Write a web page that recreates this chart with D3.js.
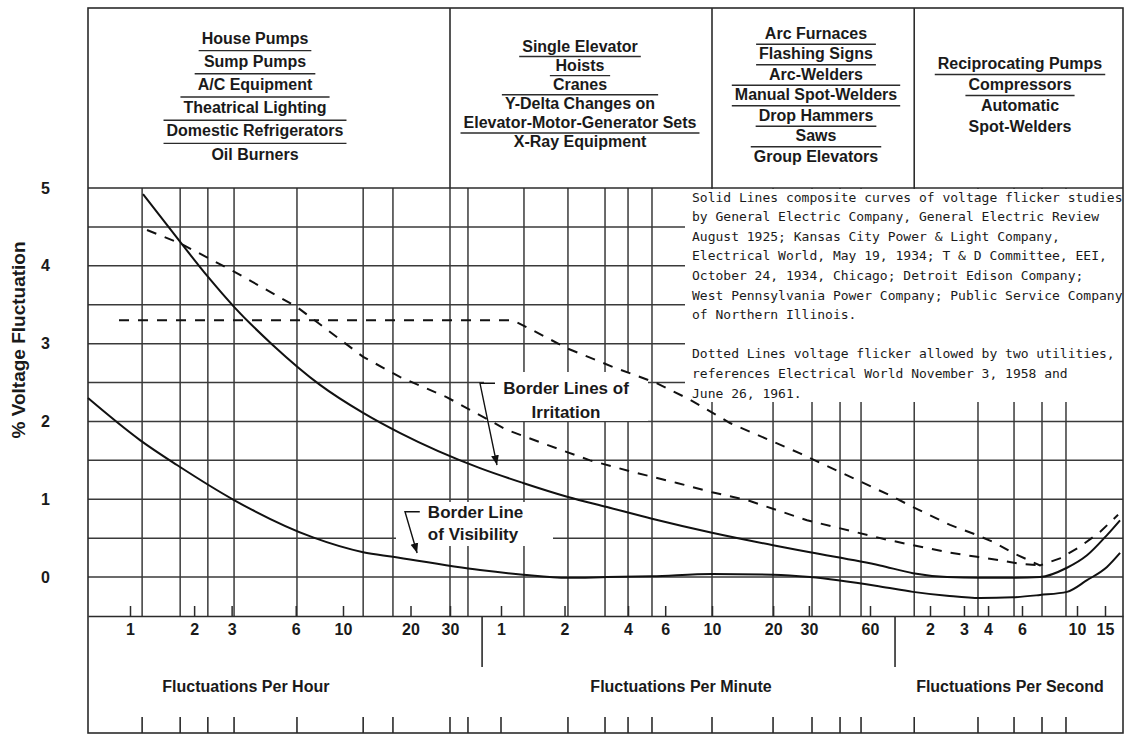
<!DOCTYPE html>
<html>
<head>
<meta charset="utf-8">
<script src="https://cdn.jsdelivr.net/npm/d3@7"></script>
<style>
body { margin: 0; background: #fff; }
text { font-family: "Liberation Sans", Arial, sans-serif; fill: #1a1a1a; }
.hdr, .lbl, .tick text { font-size: 16px; font-weight: bold; }
.note { font-family: "DejaVu Sans Mono", monospace; font-size: 13px; }
.ann { font-size: 17px; font-weight: bold; }
</style>
</head>
<body>
<script>
// x values are fluctuations per hour, y values are % voltage fluctuation

var hourTicks   = [1, 2, 3, 6, 10, 20, 30];
var minuteTicks = [1, 2, 4, 6, 10, 20, 30, 60];
var secondTicks = [2, 3, 4, 6, 10, 15];
var yTicks = [0, 1, 2, 3, 4, 5];
var yGrid  = [0, 0.5, 1, 1.5, 2, 2.5, 3, 3.5, 4, 4.5];
var xGrid  = [1.14, 1.72, 2.32, 3.08, 6.08, 12.3, 16.7, 30, 38.3, 77.1, 124.6, 186.7, 240, 311.7,
              600, 1199, 1865, 2563, 3252, 6000, 12770, 19640, 26010, 32500];
var xRug   = [1.14, 1.72, 2.32, 3.08, 6.08, 12.3, 16.7, 30, 38.3, 60, 124.6, 186.7, 240, 311.7,
              600, 1199, 1865, 2563, 3252, 6000, 12770, 19640, 26010, 32500];

// solid lines: composite curves
var irritation = [[1.151,4.92],[1.717,4.31],[2.32,3.86],[3.11,3.46],[4.69,2.98],[7.80,2.47],
  [12.3,2.11],[18.0,1.85],[45.1,1.40],[76.3,1.21],[124.6,1.03],[190.8,0.90],[311.7,0.75],
  [600,0.57],[1199,0.41],[1824,0.32],[4041,0.15],[5915,0.05],[8820,0.00],[13080,-0.01],
  [19400,-0.01],[25530,0.00],[32810,0.12],[41620,0.28],[55570,0.54],[67100,0.73]];
var visibility = [[0.635,2.30],[1.114,1.76],[1.662,1.44],[3.078,0.99],[7.23,0.51],[12.3,0.32],
  [16.7,0.26],[45.1,0.09],[76.3,0.03],[124.6,-0.01],[190.8,0.00],[311.7,0.01],[600,0.04],
  [1199,0.03],[1824,0.00],[4041,-0.12],[5915,-0.19],[8820,-0.24],[13080,-0.27],[19400,-0.26],
  [25530,-0.23],[32810,-0.19],[41620,-0.04],[55570,0.13],[67100,0.31]];

// dotted lines: flicker allowed by two utilities
var utilityA = [[1.202,4.46],[1.717,4.29],[3.11,3.92],[6.08,3.47],[12.3,2.83],[18.0,2.57],
  [29.1,2.31],[64.1,1.89],[99.1,1.70],[158.5,1.50],[253.4,1.35],[409.6,1.21],[600,1.09],
  [892,0.99],[1763,0.73],[4381,0.48],[5915,0.41],[8820,0.32],[12620,0.26],[16220,0.22],
  [21090,0.17],[25530,0.15]];
var utilityB = [[0.888,3.30],[68.4,3.30],[85.1,3.17],[123.3,2.94],[203.7,2.70],[329.3,2.49],
  [471.9,2.28],[735.5,1.98],[1199,1.74],[1628,1.59],[4536,1.05],[5915,0.90],[9144,0.67],
  [12620,0.54],[15650,0.44],[19400,0.31],[25530,0.15],[30740,0.24],[37590,0.39],
  [50220,0.58],[65190,0.80]];

var headerBounds = [30, 600, 6000];
var unitBounds   = [46.4, 4807];
var unitTitles   = ["Fluctuations Per Hour", "Fluctuations Per Minute", "Fluctuations Per Second"];
var unitTitleAt  = [3.5, 428, 18700];

var header1 = [["House Pumps"], ["Sump Pumps"], ["A/C Equipment"], ["Theatrical Lighting"],
               ["Domestic Refrigerators"], ["Oil Burners"]];
var header2 = [["Single Elevator"], ["Hoists"], ["Cranes"],
               ["Y-Delta Changes on", "Elevator-Motor-Generator Sets"], ["X-Ray Equipment"]];
var header3 = [["Arc Furnaces"], ["Flashing Signs"], ["Arc-Welders"], ["Manual Spot-Welders"],
               ["Drop Hammers"], ["Saws"], ["Group Elevators"]];
var header4 = [["Reciprocating Pumps"], ["Compressors"], ["Automatic", "Spot-Welders"]];

var notes = [
  "Solid Lines composite curves of voltage flicker studies",
  "by General Electric Company, General Electric Review",
  "August 1925; Kansas City Power & Light Company,",
  "Electrical World, May 19, 1934; T & D Committee, EEI,",
  "October 24, 1934, Chicago; Detroit Edison Company;",
  "West Pennsylvania Power Company; Public Service Company",
  "of Northern Illinois.",
  "",
  "Dotted Lines voltage flicker allowed by two utilities,",
  "references Electrical World November 3, 1958 and",
  "June 26, 1961."
];

var irritationText = ["Border Lines of", "Irritation"];
var irritationAt   = [[122, 2.43], [122, 2.12]];
var irritationLead = [[55.3, 2.49], [45.1, 2.49], [56.8, 1.44]];
var visibilityText = ["Border Line", "of Visibility"];
var visibilityAt   = [[23.9, 0.84], [23.9, 0.55]];
var visibilityLead = [[22.0, 0.84], [18.9, 0.84], [21.4, 0.31]];

// ---------------------------------------------------------------
var width = 1125, height = 734;
var frameTop = 8, frameBottom = 733;

// chart scale is roughly logarithmic but stretched unevenly between decades
var x = d3.scaleLog()
  .domain([0.635, 1, 10, 30, 60, 600, 3600, 7200, 21600, 36000, 54000, 70000])
  .range([88, 130, 343, 450, 501, 712, 870, 930, 1022, 1077, 1105, 1123]);
var y = d3.scaleLinear().domain([-0.5, 5]).range([616, 188]);

var xL = x(0.635), xR = x(70000);

var svg = d3.select("body").append("svg").attr("width", width).attr("height", height);

var ink = "#2b2b2b";

// grid
var grid = svg.append("g").attr("stroke", "#3a3a3a").attr("stroke-width", 1.5);
grid.selectAll(".hg").data(yGrid).enter().append("line")
  .attr("x1", xL).attr("x2", xR)
  .attr("y1", function(d){ return y(d); }).attr("y2", function(d){ return y(d); });
grid.selectAll(".vg").data(xGrid).enter().append("line")
  .attr("x1", function(d){ return x(d); }).attr("x2", function(d){ return x(d); })
  .attr("y1", y(5)).attr("y2", y(-0.5));

// blank areas behind the notes and labels
var masks = [[685, 189, 438, 213], [484, 372, 164, 49], [396, 502, 157, 44]];
svg.selectAll(".mask").data(masks).enter().append("rect")
  .attr("x", function(d){ return d[0]; }).attr("y", function(d){ return d[1]; })
  .attr("width", function(d){ return d[2]; }).attr("height", function(d){ return d[3]; })
  .attr("fill", "#fff");

// frame and dividers
var frame = svg.append("g").attr("stroke", ink).attr("stroke-width", 1.6);
frame.append("rect").attr("x", xL).attr("y", frameTop)
  .attr("width", xR - xL).attr("height", frameBottom - frameTop).attr("fill", "none");
frame.append("line").attr("x1", xL).attr("x2", xR).attr("y1", y(5)).attr("y2", y(5));
frame.selectAll(".hd").data(headerBounds).enter().append("line")
  .attr("x1", function(d){ return x(d); }).attr("x2", function(d){ return x(d); })
  .attr("y1", frameTop).attr("y2", y(5));
frame.selectAll(".ud").data(unitBounds).enter().append("line")
  .attr("x1", function(d){ return x(d); }).attr("x2", function(d){ return x(d); })
  .attr("y1", y(-0.5)).attr("y2", 667);
frame.selectAll(".rug").data(xRug).enter().append("line")
  .attr("x1", function(d){ return x(d); }).attr("x2", function(d){ return x(d); })
  .attr("y1", 717).attr("y2", frameBottom);

// x axis
var xTicks = hourTicks
  .concat(minuteTicks.map(function(d){ return d * 60; }))
  .concat(secondTicks.map(function(d){ return d * 3600; }));
function fmt(d) {
  if (d < 60) return d;
  if (d <= 3600) return d / 60;
  return d / 3600;
}
var xAxis = svg.append("g").attr("transform", "translate(0," + y(-0.5) + ")")
  .call(d3.axisBottom(x).tickValues(xTicks).tickFormat(fmt)
    .tickSizeInner(-10).tickSizeOuter(0).tickPadding(8));
xAxis.selectAll("line, path").attr("stroke", ink).attr("stroke-width", 1.5);
xAxis.selectAll("text").attr("fill", "#1a1a1a");
xAxis.attr("font-family", null).attr("font-size", null);

// y axis
var yAxis = svg.append("g").attr("transform", "translate(" + xL + ",0)")
  .call(d3.axisLeft(y).tickValues(yTicks).tickFormat(d3.format("d"))
    .tickSize(0).tickPadding(38));
yAxis.select(".domain").remove();
yAxis.selectAll("text").attr("fill", "#1a1a1a");
yAxis.attr("font-family", null).attr("font-size", null);

svg.append("text").attr("class", "lbl")
  .attr("transform", "translate(18,340) rotate(-90)")
  .attr("text-anchor", "middle").attr("dy", "0.35em")
  .style("font-size", "19px").text("% Voltage Fluctuation");

svg.selectAll(".unit").data(unitTitles).enter().append("text").attr("class", "lbl")
  .attr("x", function(d, i){ return x(unitTitleAt[i]); }).attr("y", 686)
  .attr("dy", "0.35em").attr("text-anchor", "middle").text(function(d){ return d; });

// curves
var smooth = d3.line().x(function(d){ return x(d[0]); }).y(function(d){ return y(d[1]); })
  .curve(d3.curveMonotoneX);
var straight = d3.line().x(function(d){ return x(d[0]); }).y(function(d){ return y(d[1]); });

[irritation, visibility].forEach(function(s){
  svg.append("path").datum(s).attr("d", smooth)
    .attr("fill", "none").attr("stroke", "#111").attr("stroke-width", 2);
});
[utilityA, utilityB].forEach(function(s){
  svg.append("path").datum(s).attr("d", straight)
    .attr("fill", "none").attr("stroke", "#111").attr("stroke-width", 2)
    .attr("stroke-dasharray", "10,9");
});

// header columns
var headerCols = [
  { items: header1, cx: 255, y0: 38, dy: 23.2 },
  { items: header2, cx: 580, y0: 46, dy: 19.1 },
  { items: header3, cx: 816, y0: 33, dy: 20.5 },
  { items: header4, cx: 1020, y0: 63, dy: 21 }
];
headerCols.forEach(function(col){
  var lines = [];
  col.items.forEach(function(item, ii){
    item.forEach(function(t){ lines.push({ t: t, item: ii }); });
  });
  var txt = svg.append("g").selectAll("text").data(lines).enter().append("text")
    .attr("class", "hdr").attr("text-anchor", "middle")
    .attr("x", col.cx).attr("y", function(d, i){ return col.y0 + i * col.dy; })
    .attr("dy", "0.35em").text(function(d){ return d.t; });
  var widths = [];
  txt.each(function(){ widths.push(this.getComputedTextLength()); });
  for (var i = 0; i < lines.length - 1; i++) {
    if (lines[i].item === lines[i + 1].item) continue;
    var w = Math.max(widths[i], widths[i + 1]) + 6;
    var ly = col.y0 + (i + 0.5) * col.dy + 1;
    svg.append("line").attr("x1", col.cx - w / 2).attr("x2", col.cx + w / 2)
      .attr("y1", ly).attr("y2", ly).attr("stroke", ink).attr("stroke-width", 1.4);
  }
});

// notes
svg.append("g").selectAll("text").data(notes).enter().append("text")
  .attr("class", "note").attr("x", 692)
  .attr("y", function(d, i){ return 197 + i * 19.6; }).attr("dy", "0.35em")
  .text(function(d){ return d; });

// annotations
svg.append("defs").append("marker").attr("id", "arrow")
  .attr("viewBox", "0 0 10 10").attr("refX", 10).attr("refY", 5)
  .attr("markerWidth", 7).attr("markerHeight", 7).attr("orient", "auto")
  .append("path").attr("d", "M0,1 L10,5 L0,9 z").attr("fill", "#111");

[[irritationText, irritationAt, irritationLead, "middle"],
 [visibilityText, visibilityAt, visibilityLead, "start"]].forEach(function(a){
  svg.append("g").selectAll("text").data(a[0]).enter().append("text")
    .attr("class", "ann").attr("text-anchor", a[3])
    .attr("x", function(d, i){ return x(a[1][i][0]); })
    .attr("y", function(d, i){ return y(a[1][i][1]); })
    .attr("dy", "0.35em").text(function(d){ return d; });
  svg.append("path").datum(a[2]).attr("d", straight)
    .attr("fill", "none").attr("stroke", "#111").attr("stroke-width", 1.4)
    .attr("marker-end", "url(#arrow)");
});
</script>
</body>
</html>
